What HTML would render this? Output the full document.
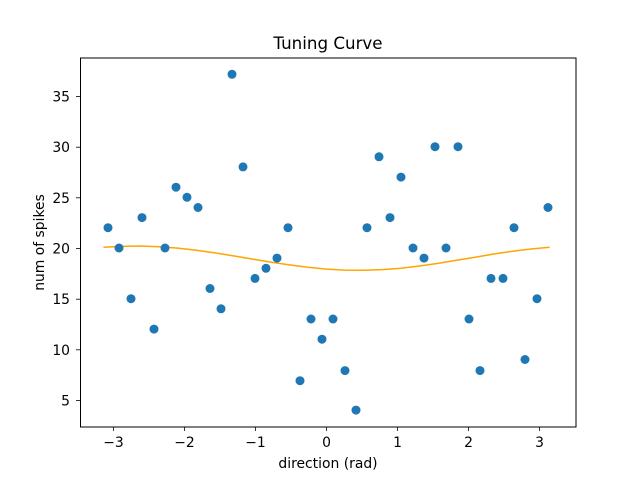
<!DOCTYPE html>
<html><head><style>body{margin:0;background:#fff}svg{display:block}text{font-family:"DejaVu Sans","Liberation Sans",sans-serif;fill:#000}</style></head>
<body>
<svg width="640" height="480" viewBox="0 0 640 480" xmlns="http://www.w3.org/2000/svg">
<rect width="640" height="480" fill="#fff"/>
<polyline fill="none" stroke="#ffa500" stroke-width="1.5" points="103.4,247.2 122,246.4 140.6,246.0 159.2,246.8 177.8,248.1 196.4,250.2 215.0,252.9 233.5,255.9 252.1,259.0 270.7,262.1 289.3,264.9 307.9,267.3 326.5,269.1 345.1,270.1 363.7,270.3 382.3,269.6 400.9,268.2 419.5,266.0 438.0,263.4 456.6,260.3 475.2,257.2 493.8,254.0 512.4,251.2 531,249.0 549.6,247.2"/>
<g fill="#1f77b4">
<circle cx="108" cy="227.7" r="4.5"/><circle cx="119" cy="248" r="4.5"/><circle cx="131" cy="298.7" r="4.5"/><circle cx="142" cy="217.6" r="4.5"/><circle cx="154" cy="329.1" r="4.5"/><circle cx="165" cy="248" r="4.5"/><circle cx="176" cy="187.2" r="4.5"/><circle cx="187" cy="197.3" r="4.5"/><circle cx="198" cy="207.5" r="4.5"/><circle cx="210" cy="288.5" r="4.5"/><circle cx="221" cy="308.8" r="4.5"/><circle cx="232" cy="74.3" r="4.5"/><circle cx="243" cy="166.9" r="4.5"/><circle cx="255" cy="278.4" r="4.5"/><circle cx="266" cy="268.3" r="4.5"/><circle cx="277" cy="258.1" r="4.5"/><circle cx="288" cy="227.7" r="4.5"/><circle cx="300" cy="380.7" r="4.5"/><circle cx="311" cy="319" r="4.5"/><circle cx="322" cy="339.2" r="4.5"/><circle cx="333" cy="319" r="4.5"/><circle cx="345" cy="370.6" r="4.5"/><circle cx="356" cy="410.1" r="4.5"/><circle cx="367" cy="227.7" r="4.5"/><circle cx="379" cy="156.8" r="4.5"/><circle cx="390" cy="217.6" r="4.5"/><circle cx="401" cy="177.1" r="4.5"/><circle cx="413" cy="248" r="4.5"/><circle cx="424" cy="258.1" r="4.5"/><circle cx="435" cy="146.7" r="4.5"/><circle cx="446" cy="248" r="4.5"/><circle cx="458" cy="146.7" r="4.5"/><circle cx="469" cy="319" r="4.5"/><circle cx="480" cy="370.6" r="4.5"/><circle cx="491" cy="278.4" r="4.5"/><circle cx="503" cy="278.4" r="4.5"/><circle cx="514" cy="227.7" r="4.5"/><circle cx="525" cy="359.5" r="4.5"/><circle cx="537" cy="298.7" r="4.5"/><circle cx="548" cy="207.5" r="4.5"/>
</g>
<rect x="80.5" y="58" width="495.5" height="369" fill="none" stroke="#000" stroke-width="1"/>
<g stroke="#000" stroke-width="0.8">
<line x1="113.5" y1="427" x2="113.5" y2="431"/><line x1="184.5" y1="427" x2="184.5" y2="431"/><line x1="255.5" y1="427" x2="255.5" y2="431"/><line x1="326.5" y1="427" x2="326.5" y2="431"/><line x1="397.5" y1="427" x2="397.5" y2="431"/><line x1="468.5" y1="427" x2="468.5" y2="431"/><line x1="539.5" y1="427" x2="539.5" y2="431"/>
<line x1="76" y1="400.5" x2="80" y2="400.5"/><line x1="76" y1="349.8" x2="80" y2="349.8"/><line x1="76" y1="299.2" x2="80" y2="299.2"/><line x1="76" y1="248.5" x2="80" y2="248.5"/><line x1="76" y1="197.8" x2="80" y2="197.8"/><line x1="76" y1="147.2" x2="80" y2="147.2"/><line x1="76" y1="96.5" x2="80" y2="96.5"/>
</g>
<g font-size="13.9" text-anchor="middle">
<text x="113.5" y="447">−3</text><text x="184.5" y="447">−2</text><text x="255.5" y="447">−1</text><text x="326.5" y="447">0</text><text x="397.5" y="447">1</text><text x="468.5" y="447">2</text><text x="539.5" y="447">3</text>
</g>
<g font-size="13.9" text-anchor="end">
<text x="70" y="405.5">5</text><text x="70" y="354.8">10</text><text x="70" y="304.2">15</text><text x="70" y="253.5">20</text><text x="70" y="202.8">25</text><text x="70" y="152.2">30</text><text x="70" y="101.5">35</text>
</g>
<text x="328" y="468" font-size="13.9" text-anchor="middle">direction (rad)</text>
<text transform="translate(44,242.5) rotate(-90)" font-size="13.9" text-anchor="middle">num of spikes</text>
<text x="328" y="49" font-size="16.7" text-anchor="middle">Tuning Curve</text>
</svg>
</body></html>
